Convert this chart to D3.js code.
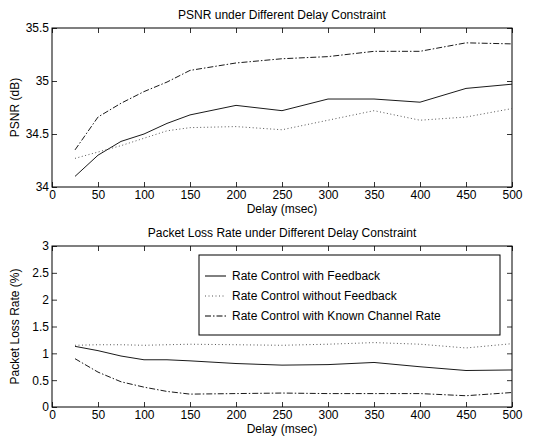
<!DOCTYPE html>
<html>
<head>
<meta charset="utf-8">
<script src="https://cdn.jsdelivr.net/npm/d3@7"></script>
<style>
  body { margin: 0; background: #fff; }
  text { font-family: "Liberation Sans", Arial, sans-serif; }
</style>
</head>
<body>
<svg width="545" height="438"></svg>
<script>
// delays (msec)
const delays = [25, 50, 75, 100, 125, 150, 200, 250, 300, 350, 400, 450, 500];

// PSNR (dB)
const psnrFeedback   = [34.10, 34.30, 34.43, 34.50, 34.60, 34.68, 34.77, 34.72, 34.83, 34.83, 34.80, 34.93, 34.97];
const psnrNoFeedback = [34.27, 34.33, 34.39, 34.46, 34.53, 34.56, 34.57, 34.54, 34.63, 34.72, 34.63, 34.66, 34.74];
const psnrKnown      = [34.35, 34.66, 34.79, 34.90, 34.99, 35.10, 35.17, 35.21, 35.23, 35.28, 35.28, 35.36, 35.35];

// packet loss rate (%)
const lossFeedback   = [1.13, 1.05, 0.95, 0.88, 0.88, 0.86, 0.81, 0.78, 0.79, 0.83, 0.75, 0.68, 0.69];
const lossNoFeedback = [1.15, 1.16, 1.16, 1.15, 1.16, 1.17, 1.16, 1.15, 1.17, 1.20, 1.17, 1.10, 1.18];
const lossKnown      = [0.90, 0.65, 0.47, 0.37, 0.29, 0.24, 0.25, 0.26, 0.25, 0.25, 0.25, 0.21, 0.27];

const xTicks = [0, 50, 100, 150, 200, 250, 300, 350, 400, 450, 500];
const psnrTicks = [34, 34.5, 35, 35.5];
const lossTicks = [0, 0.5, 1, 1.5, 2, 2.5, 3];

const seriesNames = ["Rate Control with Feedback", "Rate Control without Feedback", "Rate Control with Known Channel Rate"];
const dashes = [null, "1,2.5", "6,2,1.5,2"];
const strokeCol = ["#000", "#555", "#000"];

const svg = d3.select("svg");
const L = 52, R = 512;
const FS = 12;

const panels = {

    psnr : {
        top : 28, bottom : 187,
        domain : [34, 35.5], ticks : psnrTicks,
        title : "PSNR under Different Delay Constraint",
        ylabel : "PSNR (dB)",
        series : [psnrFeedback, psnrNoFeedback, psnrKnown]
    },

    loss : {
        top : 246, bottom : 407,
        domain : [0, 3], ticks : lossTicks,
        title : "Packet Loss Rate under Different Delay Constraint",
        ylabel : "Packet Loss Rate (%)",
        series : [lossFeedback, lossNoFeedback, lossKnown]
    }

};

const drawPanel = (p, legend) => {

    const x = d3.scaleLinear().domain([0, 500]).range([L, R]);
    const y = d3.scaleLinear().domain(p.domain).range([p.bottom, p.top]);

    const g = svg.append("g");

    // axes, matlab style: inward ticks on all four sides
    const styleAxis = a => {
        a.select(".domain").remove();
        a.selectAll("line").attr("stroke", "#000").attr("stroke-width", 0.8);
        a.selectAll("text").attr("font-size", FS).attr("fill", "#000");
    };

    g.append("g").attr("transform", `translate(0,${p.bottom})`)
      .call(d3.axisBottom(x).tickValues(xTicks).tickSizeInner(-5).tickPadding(3))
      .call(styleAxis);
    g.append("g").attr("transform", `translate(0,${p.top})`)
      .call(d3.axisTop(x).tickValues(xTicks).tickSizeInner(-5).tickFormat(""))
      .call(styleAxis);
    g.append("g").attr("transform", `translate(${L},0)`)
      .call(d3.axisLeft(y).tickValues(p.ticks).tickSizeInner(-5).tickPadding(3).tickFormat(d => d))
      .call(styleAxis);
    g.append("g").attr("transform", `translate(${R},0)`)
      .call(d3.axisRight(y).tickValues(p.ticks).tickSizeInner(-5).tickFormat(""))
      .call(styleAxis);

    g.append("rect")
      .attr("x", L).attr("y", p.top)
      .attr("width", R - L).attr("height", p.bottom - p.top)
      .attr("fill", "none").attr("stroke", "#000").attr("stroke-width", 1);

    const line = d3.line().x((d, i) => x(delays[i])).y(d => y(d));

    p.series.forEach((s, k) => {
        g.append("path")
          .datum(s)
          .attr("d", line)
          .attr("fill", "none")
          .attr("stroke", strokeCol[k])
          .attr("stroke-width", k == 1 ? 1 : 0.9)
          .attr("stroke-dasharray", dashes[k]);
    });

    g.append("text")
      .attr("x", (L + R) / 2).attr("y", p.top - 9)
      .attr("text-anchor", "middle").attr("font-size", FS)
      .text(p.title);

    g.append("text")
      .attr("x", (L + R) / 2).attr("y", p.bottom + 26)
      .attr("text-anchor", "middle").attr("font-size", FS)
      .text("Delay (msec)");

    g.append("text")
      .attr("transform", `translate(19,${(p.top + p.bottom) / 2}) rotate(-90)`)
      .attr("text-anchor", "middle").attr("font-size", FS)
      .text(p.ylabel);

    if (legend) {
        const lg = g.append("g").attr("transform", "translate(199,255)");
        lg.append("rect")
          .attr("width", 301).attr("height", 80)
          .attr("fill", "#fff").attr("stroke", "#000").attr("stroke-width", 1);
        seriesNames.forEach((name, k) => {
            const yy = 21 + k * 20;
            lg.append("line")
              .attr("x1", 6).attr("x2", 27).attr("y1", yy).attr("y2", yy)
              .attr("stroke", strokeCol[k]).attr("stroke-width", 1)
              .attr("stroke-dasharray", dashes[k]);
            lg.append("text")
              .attr("x", 33).attr("y", yy + 4)
              .attr("font-size", FS)
              .text(name);
        });
    }

};

drawPanel(panels.psnr, false);
drawPanel(panels.loss, true);
</script>
</body>
</html>
